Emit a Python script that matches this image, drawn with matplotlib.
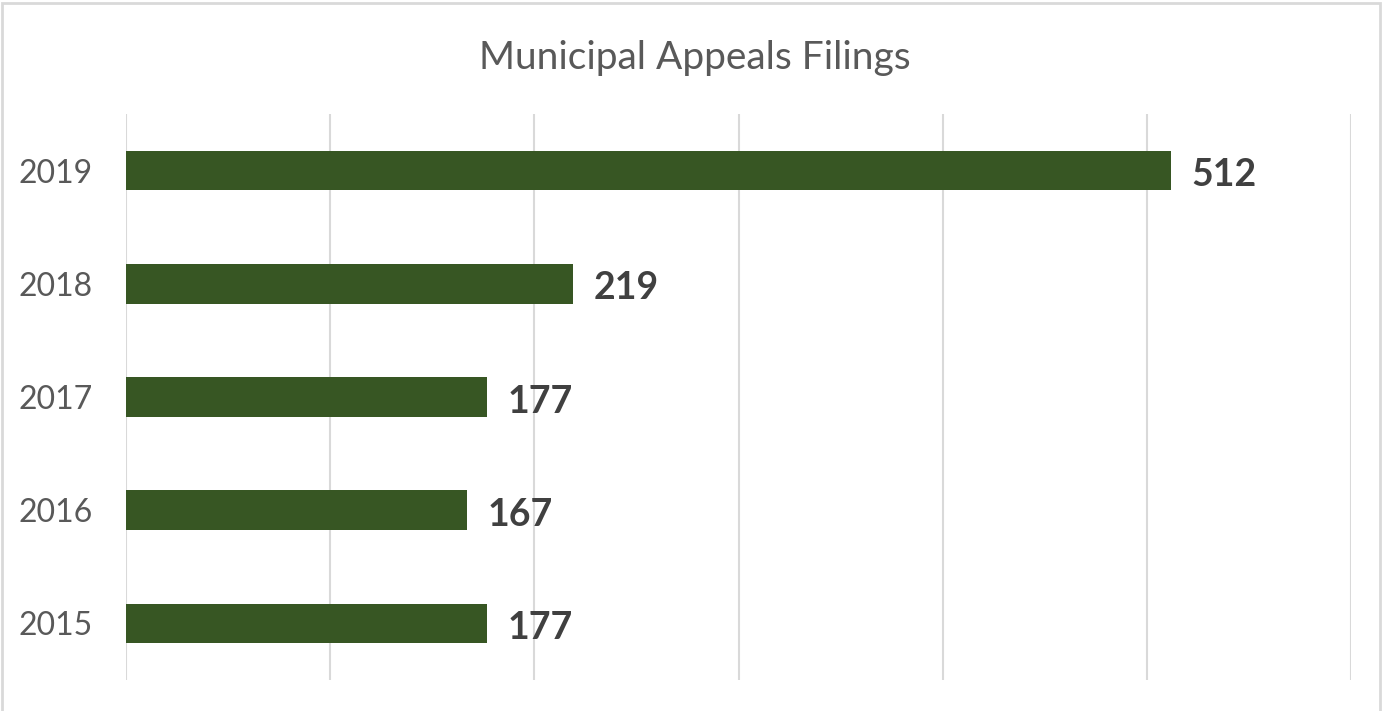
import matplotlib.pyplot as plt
from matplotlib.patches import Rectangle

years = ["2015", "2016", "2017", "2018", "2019"]
filings = [177, 167, 177, 219, 512]

plt.rcParams['font.family'] = ['Lato', 'DejaVu Sans']

fig = plt.figure(figsize=(13.82, 7.11), dpi=100)
ax = fig.add_axes([0.0912, 0.0436, 0.8864, 0.7961])

pos = range(len(years))
ax.barh(pos, filings, height=0.35, color="#375623")
for p, v in zip(pos, filings):
    ax.text(v + 10, p - 0.04, str(v), va="center", ha="left",
            fontsize=27, fontweight="bold", color="#404040")

ax.set_xlim(0, 600)
ax.set_ylim(-0.5, 4.5)
ax.set_xticks(range(0, 601, 100))
ax.set_xticklabels([])
ax.set_yticks(list(pos))
ax.set_yticklabels(years, fontsize=23, color="#595959")
ax.tick_params(length=0, pad=24)
ax.grid(axis="x", color="#d9d9d9", linewidth=1.5)
ax.set_axisbelow(True)
for s in ax.spines.values():
    s.set_visible(False)

fig.text(0.503, 0.919, "Municipal Appeals Filings", ha="center", va="center",
         fontsize=28, color="#595959")

fig.patches.append(Rectangle((0.0015, -0.01), 0.997, 1.006, transform=fig.transFigure,
                             fill=False, edgecolor="#d9d9d9", linewidth=2))

fig.savefig("out.png", dpi=100)
